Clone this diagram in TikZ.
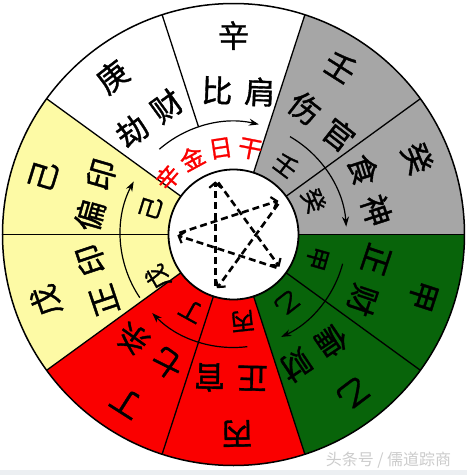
\documentclass[tikz,border=0pt]{standalone}
\usepackage{fontspec}
\newfontfamily\cjk[FakeBold=1.2]{Noto Sans CJK SC}
\newfontfamily\cjkmark{Noto Sans CJK SC}
\usetikzlibrary{arrows.meta}
\definecolor{sgray}{RGB}{166,166,166}
\definecolor{sgreen}{RGB}{8,100,10}
\definecolor{sred}{RGB}{250,0,0}
\definecolor{syellow}{RGB}{253,250,165}
\definecolor{band}{RGB}{236,239,242}
\begin{document}
\begin{tikzpicture}[x=1pt,y=1pt,
  big/.style={font=\cjk\fontsize{31}{31}\selectfont, inner sep=0pt},
  small/.style={font=\cjk\fontsize{24}{24}\selectfont, inner sep=0pt},
  redtxt/.style={font=\cjk\fontsize{24}{24}\selectfont, inner sep=0pt, text=sred},
  divider/.style={line width=1.3pt},
  flow/.style={line width=1.2pt, -{Stealth[length=10pt,width=7pt]}},
  starline/.style={line width=2.6pt, dashed, dash pattern=on 7pt off 4pt,
     -{Straight Barb[length=5pt,width=12pt,line width=2.2pt]}, shorten <=5pt, shorten >=3pt},
  wmark/.style={font=\cjkmark\fontsize{16}{16}\selectfont, text=gray!40, inner sep=0pt}]
\useasboundingbox (-233.5,-240.5) rectangle (233.5,234.5);
\fill[white] (-233.5,-240.5) rectangle (233.5,234.5);
\fill[band] (-233.5,-240.5) rectangle (233.5,-235.5);
% sectors
\def\R{231}
\fill[sgray] (0,0) -- (0:\R) arc[start angle=0,end angle=72,radius=\R] -- cycle;
\fill[white] (0,0) -- (72:\R) arc[start angle=72,end angle=144,radius=\R] -- cycle;
\fill[syellow] (0,0) -- (144:\R) arc[start angle=144,end angle=216,radius=\R] -- cycle;
\fill[sred] (0,0) -- (216:\R) arc[start angle=216,end angle=288,radius=\R] -- cycle;
\fill[sgreen] (0,0) -- (288:\R) arc[start angle=288,end angle=360,radius=\R] -- cycle;
% dividers
\foreach \a in {0,36,72,144,180,216,252,288,324} \draw[divider] (\a:65) -- (\a:\R);
\draw[divider] (108:113) -- (108:\R);
\draw[line width=1.5pt] (0,0) circle (\R);
% inner circle
\draw[line width=1.8pt, fill=white] (0,0) circle (65);
% flow arrows
\draw[flow] (131:113) arc[start angle=131,end angle=77,radius=113];
\draw[flow] (60:113) arc[start angle=60,end angle=4,radius=113];
\draw[flow] (345:113) arc[start angle=345,end angle=295,radius=113];
\draw[flow] (277:113) arc[start angle=277,end angle=224,radius=113];
\draw[flow] (214:113) arc[start angle=214,end angle=152,radius=113];
% outer texts
\foreach \n/\sa/\st/\ga/\ca/\cb in {
  k/22.5/癸/18/食/神, r/57.5/壬/52/伤/官, x/90/辛/88/比/肩, g/127.5/庚/126/劫/财,
  j/163/己/164/偏/印, w/199.5/戊/198.5/正/印, d/237.5/丁/234.5/七/杀,
  b/271/丙/269/正/官, y/307/乙/304/偏/财, q/342/甲/341.5/正/财} {
  \node[big, rotate=\sa-90] (stem\n) at (\sa:199) {\st};
  \node[big, rotate=\ga-90] (ga\n) at ({\ga+8.5}:145) {\ca};
  \node[big, rotate=\ga-90] (gb\n) at ({\ga-8.5}:145) {\cb};
}
% inner labels
\foreach \n/\a/\t in {r/53/壬, k/23/癸, q/344/甲, y/308/乙, b/276/丙, d/241/丁, w/209.5/戊, j/162.5/己} {
  \node[small, rotate=\a-90] (in\n) at (\a:87) {\t};
}
\foreach \n/\a/\t in {1/139/辛, 2/118.5/金, 3/98.5/日, 4/79/干} {
  \node[redtxt, rotate=\a-90] (day\n) at (\a:87) {\t};
}
% pentagram (control cycle)
\coordinate (metal) at (108:59);
\coordinate (water) at (36:59);
\coordinate (wood) at (324:59);
\coordinate (fire) at (252:59);
\coordinate (earth) at (180:59);
\draw[starline] (fire) -- (metal);
\draw[starline] (metal) -- (wood);
\draw[starline] (wood) -- (earth);
\draw[starline] (earth) -- (water);
\draw[starline] (water) -- (fire);
% watermark
\node[wmark] (wm) at (155,-225.5) {头条号 / 儒道踪商};
\end{tikzpicture}
\end{document}
